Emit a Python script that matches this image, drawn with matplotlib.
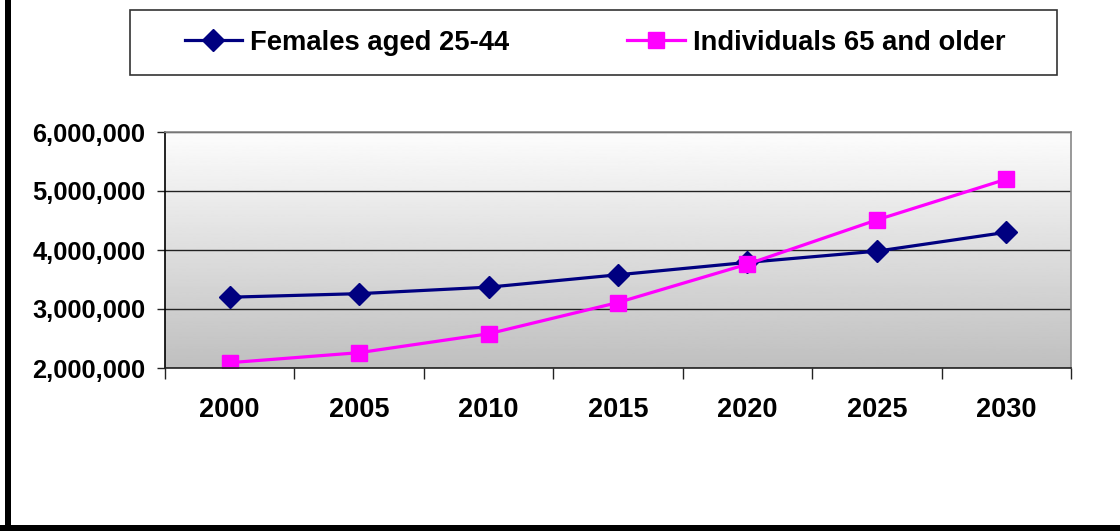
import numpy as np
import matplotlib
matplotlib.use("Agg")
from matplotlib import pyplot as plt
from matplotlib.patches import Rectangle
from matplotlib.ticker import FuncFormatter, MultipleLocator, FixedLocator

years = ["2000", "2005", "2010", "2015", "2020", "2025", "2030"]
females_25_44 = [3200000, 3260000, 3370000, 3580000, 3790000, 3980000, 4300000]
individuals_65_plus = [2090000, 2260000, 2580000, 3110000, 3760000, 4510000, 5200000]
series_names = ["Females aged 25-44", "Individuals 65 and older"]

plt.rcParams["font.family"] = ["Liberation Sans", "DejaVu Sans"]
plt.rcParams["font.weight"] = "bold"

fig = plt.figure(figsize=(11.2, 5.31), dpi=100)
ax = fig.add_axes([165 / 1120, 1 - 368 / 531, (1071 - 165) / 1120, (368 - 132) / 531])

# gradient background of the plot area
grad = np.linspace(0.99, 0.75, 256).reshape(-1, 1)
ax.imshow(grad, cmap="gray", vmin=0, vmax=1, aspect="auto",
          extent=[0, 1, 0, 1], transform=ax.transAxes, zorder=0)

x = np.arange(len(years))
ax.plot(x, females_25_44, color="#000080", lw=2.3, marker="D", ms=11.5,
        zorder=3, label=series_names[0])
ax.plot(x, individuals_65_plus, color="#FF00FF", lw=2.3, marker="s", ms=12,
        zorder=4, label=series_names[1])

ax.set_xlim(-0.5, len(years) - 0.5)
ax.set_ylim(2000000, 6000000)
ax.yaxis.set_major_locator(MultipleLocator(1000000))
ax.yaxis.set_major_formatter(FuncFormatter(lambda v, p: f"{int(v):,}"))
ax.grid(axis="y", color="#222222", lw=1, zorder=1)
ax.set_axisbelow(False)

ax.set_xticks(x)
ax.set_xticklabels(years)
ax.xaxis.set_minor_locator(FixedLocator(np.arange(len(years) + 1) - 0.5))
ax.tick_params(axis="x", which="major", length=0, pad=21, labelsize=19.5)
ax.tick_params(axis="x", which="minor", length=8, width=1, color="#222222")
ax.tick_params(axis="y", length=6, width=1, pad=8, labelsize=18.3, color="#222222")
for lab in ax.get_xticklabels() + ax.get_yticklabels():
    lab.set_fontweight("bold")

ax.spines["left"].set_color("black")
ax.spines["bottom"].set_color("#222222")
ax.spines["top"].set_color("#888888")
ax.spines["right"].set_color("#888888")
for s in ax.spines.values():
    s.set_linewidth(1.2)
    s.set_zorder(5)

# legend box
fig.patches.append(Rectangle((130 / 1120, 1 - 75 / 531), (1057 - 130) / 1120, 65 / 531,
                             transform=fig.transFigure, fill=False,
                             edgecolor="#333333", lw=1.2))
leg = fig.legend(loc="center", bbox_to_anchor=(595 / 1120, 1 - 43 / 531), ncol=2,
                 frameon=False, fontsize=19.7, handlelength=2.1, handletextpad=0.3,
                 columnspacing=4.3, borderpad=0)
for t in leg.get_texts():
    t.set_fontweight("bold")

# outer frame (left and bottom)
fig.patches.append(Rectangle((5 / 1120, 0), 6 / 1120, 1, transform=fig.transFigure,
                             color="black", lw=0))
fig.patches.append(Rectangle((0, 0), 1, 6 / 531, transform=fig.transFigure,
                             color="black", lw=0))

fig.savefig("out.png", dpi=100)
